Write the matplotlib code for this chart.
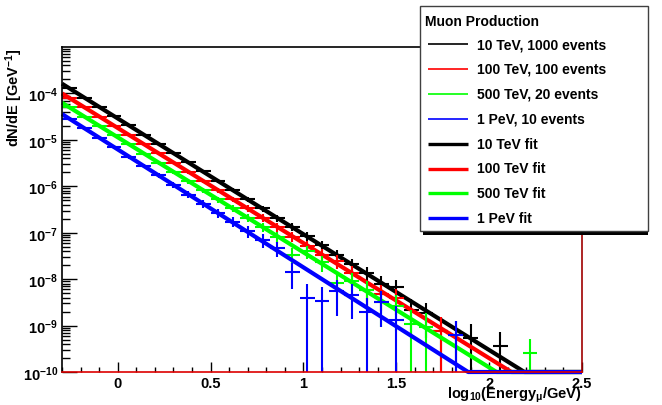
import numpy as np
import matplotlib
matplotlib.use("Agg")
import matplotlib.pyplot as plt
from matplotlib.ticker import LogLocator, NullFormatter, MultipleLocator
from matplotlib.patches import Rectangle

plt.rcParams['font.family'] = ['Liberation Sans', 'DejaVu Sans']
plt.rcParams['font.weight'] = 'bold'
plt.rcParams['mathtext.fontset'] = 'custom'
plt.rcParams['mathtext.rm'] = 'Liberation Sans:bold'
plt.rcParams['mathtext.it'] = 'Liberation Sans:bold'
plt.rcParams['mathtext.bf'] = 'Liberation Sans:bold'

# 35 bins in log10(E/GeV) from -0.3 to 2.5
bin_edges = np.linspace(-0.3, 2.5, 36)
x_c = 0.5 * (bin_edges[1:] + bin_edges[:-1])
half_w = 0.5 * (bin_edges[1] - bin_edges[0])
norm = 4.2e-8   # dN/dE per muon count (divided by bin energy)

# muon counts per bin
counts_10tev = [1680, 1280, 975, 740, 560, 425, 325, 248, 187, 143, 108, 82, 63, 48, 36,
                28, 21, 16, 12, 9, 7, 5, 5, 2, 2, 1, 1, 1, 0, 1, 0, 0, 0, 0, 0]
counts_100tev = [1035, 790, 600, 457, 348, 265, 202, 154, 117, 89, 68, 52, 40, 30, 23,
                 17, 13, 10, 9, 6, 3, 3, 3, 0, 0, 1, 0, 0, 0, 0, 0, 0, 0, 0, 0]
counts_500tev = [653, 497, 378, 288, 219, 167, 127, 97, 74, 56, 43, 33, 25, 19, 14,
                 7, 10, 7, 3, 4, 3, 2, 2, 1, 1, 0, 0, 0, 0, 0, 0, 1, 0, 0, 0]
counts_1pev = [369, 278, 210, 158, 119, 90, 68, 51, 38, 29, 22, 17, 13, 10, 8,
               3, 1, 1, 2, 2, 1, 2, 1, 0, 0, 0, 1, 0, 0, 0, 0, 0, 0, 0, 0]

# power-law fits: value at log10(E)=-0.3 and where they drop to 1e-10
fit_y_start = [1.62e-4, 1.0e-4, 6.3e-5, 3.6e-5]
fit_x_end = [2.19, 2.12, 2.04, 1.887]

colors = ['black', '#ff0000', '#00ff00', '#0000ff']
data_labels = ['10 TeV, 1000 events', '100 TeV, 100 events',
               '500 TeV, 20 events', '1 PeV, 10 events']
fit_labels = ['10 TeV fit', '100 TeV fit', '500 TeV fit', '1 PeV fit']
legend_title = 'Muon Production'

ymin, ymax = 1e-10, 1e-3
xmin, xmax = -0.3, 2.5

fig = plt.figure(figsize=(6.62, 4.06), dpi=100)
ax = fig.add_axes([62/662, 1-373/406, 520/662, 325/406])
ax.set_yscale('log')
ax.set_xlim(xmin, xmax)
ax.set_ylim(ymin, ymax)

all_counts = [counts_10tev, counts_100tev, counts_500tev, counts_1pev]
for counts, col, y0, xe in zip(all_counts, colors, fit_y_start, fit_x_end):
    n = np.array(counts, dtype=float)
    y = n * norm / 10**x_c
    err = np.sqrt(n) * norm / 10**x_c
    m = n > 0
    ax.hlines(y[m], x_c[m] - half_w, x_c[m] + half_w, color=col, lw=1.5)
    ax.vlines(x_c[m], np.maximum(y - err, 1e-12)[m], (y + err)[m], color=col, lw=1.5)
    ax.plot([xmin, xe, xmax], [y0, ymin, ymin], color=col, lw=3, clip_on=False,
            solid_capstyle='butt')

decades = list(range(-10, -3))
ax.set_yticks([10.0**d for d in decades])
ax.set_yticklabels([r'$10^{%d}$' % d for d in decades])
ax.yaxis.set_minor_locator(LogLocator(base=10, subs=np.arange(2, 10), numticks=30))
ax.yaxis.set_minor_formatter(NullFormatter())
ax.xaxis.set_major_locator(MultipleLocator(0.5))
ax.xaxis.set_minor_locator(MultipleLocator(0.1))
ax.set_xticks([0, 0.5, 1, 1.5, 2, 2.5])
ax.set_xticklabels(['0', '0.5', '1', '1.5', '2', '2.5'])

ax.tick_params(axis='both', which='both', direction='in', top=False, right=False,
               labelsize=10.5, width=1)
ax.tick_params(axis='y', which='major', length=10.8, pad=3)
ax.tick_params(axis='y', which='minor', length=5.8)
ax.tick_params(axis='x', which='major', length=7.2, pad=3)
ax.tick_params(axis='x', which='minor', length=3.6)

ax.spines['bottom'].set_color('#dd0000')
ax.spines['right'].set_color('#a00000')
for s in ax.spines.values():
    s.set_linewidth(1.2)

ax.set_ylabel('dN/dE [GeV$^{-1}$]', loc='top', fontsize=10.5, fontweight='bold')
ax.yaxis.set_label_coords(-0.071, 1.0)
ax.set_xlabel(r'log$_{10}$(Energy$_{\mu}$/GeV)', loc='right', fontsize=10.5, fontweight='bold')
ax.xaxis.set_label_coords(1.0, -0.040)

# legend box (ROOT style with shadow), in pixel coordinates
lax = fig.add_axes([0, 0, 1, 1], zorder=5)
lax.set_xlim(0, 662)
lax.set_ylim(406, 0)
lax.axis('off')
lax.add_patch(Rectangle((423, 226), 225, 10, facecolor='black', edgecolor='none'))
lax.add_patch(Rectangle((420, 7), 228, 225, facecolor='white', edgecolor='#404040', lw=1))
lax.text(425, 22, legend_title, fontsize=10, fontweight='bold', va='center', ha='left')
rows = [(c, l, 1.2) for c, l in zip(colors, data_labels)] + \
       [(c, l, 2.4) for c, l in zip(colors, fit_labels)]
for i, (col, lab, lw) in enumerate(rows):
    yy = 45 + 24.9 * i
    lax.plot([428, 468], [yy, yy], color=col, lw=lw, solid_capstyle='butt')
    lax.text(477, yy, lab, fontsize=10, fontweight='bold', va='center', ha='left')

fig.savefig('out.png', dpi=100)
